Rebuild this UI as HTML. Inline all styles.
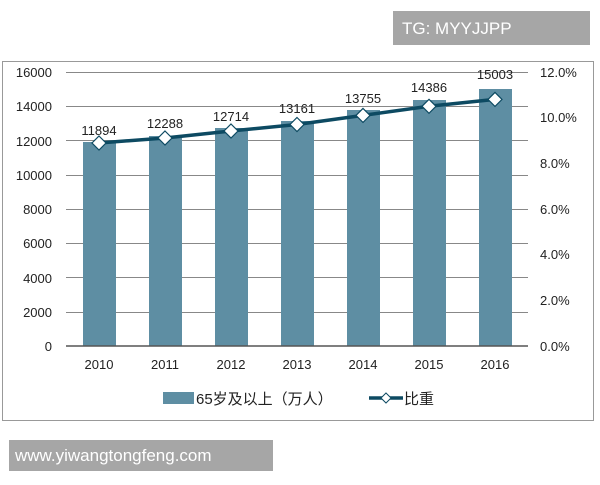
<!DOCTYPE html>
<html><head><meta charset="utf-8"><style>
body{margin:0;background:#fff;width:600px;height:480px;overflow:hidden}
text{font-family:"Liberation Sans","Noto Sans CJK SC",sans-serif;fill:#222}
</style></head><body>
<svg width="600" height="480" xmlns="http://www.w3.org/2000/svg">
<rect x="393" y="11" width="197" height="34" fill="#a6a6a6"/>
<text x="402" y="34" font-size="17" style="fill:#fff">TG: MYYJJPP</text>
<rect x="2.5" y="61.5" width="591" height="359" fill="#fff" stroke="#999"/>
<g stroke="#888" stroke-width="1">
<line x1="66" x2="528" y1="72.5" y2="72.5"/><line x1="66" x2="528" y1="106.5" y2="106.5"/>
<line x1="66" x2="528" y1="140.5" y2="140.5"/><line x1="66" x2="528" y1="175.5" y2="175.5"/>
<line x1="66" x2="528" y1="209.5" y2="209.5"/><line x1="66" x2="528" y1="243.5" y2="243.5"/>
<line x1="66" x2="528" y1="277.5" y2="277.5"/><line x1="66" x2="528" y1="312.5" y2="312.5"/>
</g>
<g fill="#5e8ea3">
<rect x="83" y="142" width="33" height="204"/><rect x="149" y="136" width="33" height="210"/>
<rect x="215" y="128" width="33" height="218"/><rect x="281" y="121" width="33" height="225"/>
<rect x="347" y="110" width="33" height="236"/><rect x="413" y="100" width="33" height="246"/>
<rect x="479" y="89" width="33" height="257"/>
</g>
<line x1="66" x2="528" y1="346" y2="346" stroke="#555" stroke-width="1.5"/>
<g font-size="13" text-anchor="end">
<text x="52" y="77">16000</text><text x="52" y="111">14000</text><text x="52" y="146">12000</text>
<text x="52" y="180">10000</text><text x="52" y="214">8000</text><text x="52" y="248">6000</text>
<text x="52" y="283">4000</text><text x="52" y="317">2000</text><text x="52" y="351">0</text>
</g>
<g font-size="13">
<text x="540" y="77">12.0%</text><text x="540" y="122">10.0%</text><text x="540" y="168">8.0%</text>
<text x="540" y="214">6.0%</text><text x="540" y="259">4.0%</text><text x="540" y="305">2.0%</text>
<text x="540" y="351">0.0%</text>
</g>
<g font-size="13" text-anchor="middle">
<text x="99" y="369">2010</text><text x="165" y="369">2011</text><text x="231" y="369">2012</text>
<text x="297" y="369">2013</text><text x="363" y="369">2014</text><text x="429" y="369">2015</text><text x="495" y="369">2016</text>
<text x="99" y="135">11894</text><text x="165" y="128">12288</text><text x="231" y="121">12714</text>
<text x="297" y="113">13161</text><text x="363" y="103">13755</text><text x="429" y="92">14386</text><text x="495" y="79">15003</text>
</g>
<polyline points="99,143 165,138 231,131 297,124.5 363,115.4 429,106.3 495,99.4" fill="none" stroke="#0d4a62" stroke-width="3.5"/>
<g fill="#fff" stroke="#0d4a62" stroke-width="1.2">
<path d="M99,136 l7,7 l-7,7 l-7,-7z"/><path d="M165,131 l7,7 l-7,7 l-7,-7z"/>
<path d="M231,124 l7,7 l-7,7 l-7,-7z"/><path d="M297,117.5 l7,7 l-7,7 l-7,-7z"/>
<path d="M363,108.4 l7,7 l-7,7 l-7,-7z"/><path d="M429,99.3 l7,7 l-7,7 l-7,-7z"/>
<path d="M495,92.4 l7,7 l-7,7 l-7,-7z"/>
</g>
<rect x="163" y="392" width="31" height="12" fill="#5e8ea3"/>
<text x="196" y="404" font-size="15">65岁及以上（万人）</text>
<line x1="369" x2="403" y1="398" y2="398" stroke="#0d4a62" stroke-width="3.5"/>
<path d="M386,393 l5,5 l-5,5 l-5,-5z" fill="#fff" stroke="#0d4a62"/>
<text x="404" y="404" font-size="15">比重</text>
<rect x="9" y="440" width="264" height="31" fill="#a6a6a6"/>
<text x="15" y="461" font-size="17" style="fill:#fff">www.yiwangtongfeng.com</text>
</svg>
</body></html>
